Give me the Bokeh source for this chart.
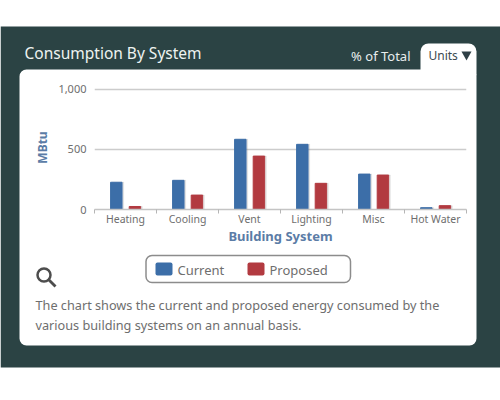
from bokeh.plotting import figure
from bokeh.layouts import column
from bokeh.embed import file_html
from bokeh.resources import INLINE
from bokeh.models import (BoxAnnotation, Label, Range1d, FixedTicker, PolyAnnotation, NumeralTickFormatter)

categories = ["Heating", "Cooling", "Vent", "Lighting", "Misc", "Hot Water"]
current = [227, 243, 585, 543, 295, 15]
proposed = [25, 120, 445, 218, 287, 32]
y_ticks = [0, 500, 1000]
series_names = ["Current", "Proposed"]
title = "Consumption By System"
note_lines = ["The chart shows the current and proposed energy consumed by the",
              "various building systems on an annual basis."]

DARK = "#2b4344"
BLUE = "#3c6ea8"
RED = "#b23a40"
GREY = "#6e6e6e"
AXIS_BLUE = "#5b7ca6"
FONT = "Noto Sans"
W, H = 500, 400

# background layer: frame = whole page, data units = pixels
bg = figure(width=W, height=H, output_backend="svg", toolbar_location=None,
            x_range=Range1d(0, W), y_range=Range1d(H, 0),
            min_border=0, x_axis_location=None, y_axis_location=None,
            border_fill_color="white", background_fill_color="white", outline_line_color=None)
bg.grid.visible = False
bg.margin = 0
bg.frame_align = False


def box(x0, y0, x1, y1, color, radius=0, line=None, lw=1):
    bg.add_layout(BoxAnnotation(left=x0, right=x1, top=y0, bottom=y1,
                                fill_color=color, fill_alpha=1 if color else 0,
                                line_color=line, line_alpha=1, line_width=lw,
                                border_radius=radius, level="underlay", editable=False))


def text(x, y, s, size, color, style="normal", align="left"):
    bg.add_layout(Label(x=x, y=y, text=s, text_font=FONT, text_font_size=f"{size}px", text_color=color,
                        text_font_style=style, text_align=align, text_baseline="middle"))


def poly(xs, ys, color):
    bg.add_layout(PolyAnnotation(xs=xs, ys=ys, fill_color=color, fill_alpha=1, line_color=None, editable=False))


box(0, 26, W, 367, DARK)
box(19, 69, 476, 345, "white", radius=7)
box(420, 43, 476, 75, "white", radius=(8, 8, 0, 0))
text(24, 52, title, 15.5, "#eef3f1")
text(410, 55, "% of Total", 13, "#e8eeee", align="right")
text(428, 55, "Units", 12, "#3a4a50")
poly([461, 471, 466], [51, 51, 60], "#2f4046")

box(145.5, 255, 350, 282, None, radius=6, line="#8c8c8c", lw=1.5)
box(155, 262, 172, 275, BLUE, radius=2)
box(247, 262, 264, 275, RED, radius=2)
text(177, 269, series_names[0], 13, GREY)
text(269, 269, series_names[1], 13, GREY)

# magnifier
box(37, 268, 50, 281, None, radius=7, line="#4d4d4d", lw=2.5)
poly([47, 49, 56, 54], [280, 278, 285, 287], "#4d4d4d")

text(35, 304, note_lines[0], 12.7, GREY)
text(35, 324, note_lines[1], 12.7, GREY)

# chart layer
p = figure(width=W, height=H, output_backend="svg", toolbar_location=None,
           x_range=Range1d(0, 6), y_range=Range1d(0, 1033.33),
           min_border_left=94, min_border_right=34, min_border_top=85, min_border_bottom=191,
           border_fill_color=None, background_fill_color=None, outline_line_color=None)
p.margin = (-H, 0, 0, 0)
p.frame_align = False

idx = list(range(len(categories)))
x_cur = [i + 0.5 - 0.148 for i in idx]
x_pro = [i + 0.5 + 0.152 for i in idx]
p.vbar(x=[v + 0.025 for v in x_cur], top=current, width=0.185, color="#8a8a8a", alpha=0.18)
p.vbar(x=[v + 0.025 for v in x_pro], top=proposed, width=0.185, color="#8a8a8a", alpha=0.18)
p.vbar(x=x_cur, top=current, width=0.185, color=BLUE)
p.vbar(x=x_pro, top=proposed, width=0.185, color=RED)

ax = p.xaxis[0]
ax.ticker = FixedTicker(ticks=[i + 0.5 for i in idx], minor_ticks=list(range(len(categories) + 1)))
ax.major_label_overrides = {i + 0.5: c for i, c in enumerate(categories)}
ax.major_tick_line_color = None
ax.major_tick_out = 0
ax.major_tick_in = 0
ax.minor_tick_out = 4
ax.minor_tick_in = 0
ax.minor_tick_line_color = "#b5b5b5"
ax.axis_line_color = "#c4c4c4"
ax.axis_line_width = 1.5
ax.major_label_text_font = FONT
ax.major_label_text_font_size = "10.5px"
ax.major_label_text_color = GREY
ax.major_label_standoff = -2
ax.axis_label = "Building System"
ax.axis_label_text_font = FONT
ax.axis_label_text_font_size = "13px"
ax.axis_label_text_font_style = "bold"
ax.axis_label_text_color = AXIS_BLUE
ax.axis_label_standoff = -2

ay = p.yaxis[0]
ay.ticker = FixedTicker(ticks=y_ticks)
ay.formatter = NumeralTickFormatter(format="0,0")
ay.axis_line_color = None
ay.major_tick_line_color = None
ay.minor_tick_line_color = None
ay.major_tick_out = 0
ay.major_tick_in = 0
ay.minor_tick_out = 0
ay.minor_tick_in = 0
ay.major_label_text_font = FONT
ay.major_label_text_font_size = "11px"
ay.major_label_text_color = GREY
ay.major_label_standoff = 8
ay.axis_label = "MBtu"
ay.axis_label_text_font = FONT
ay.axis_label_text_font_size = "12px"
ay.axis_label_text_font_style = "bold"
ay.axis_label_text_color = AXIS_BLUE
ay.axis_label_standoff = 4

p.xgrid.visible = False
g = p.ygrid[0]
g.ticker = FixedTicker(ticks=y_ticks)
g.grid_line_color = "#cccccc"
g.grid_line_width = 1.5

open("out.html", "w").write(file_html(column(bg, p, spacing=0), INLINE))
